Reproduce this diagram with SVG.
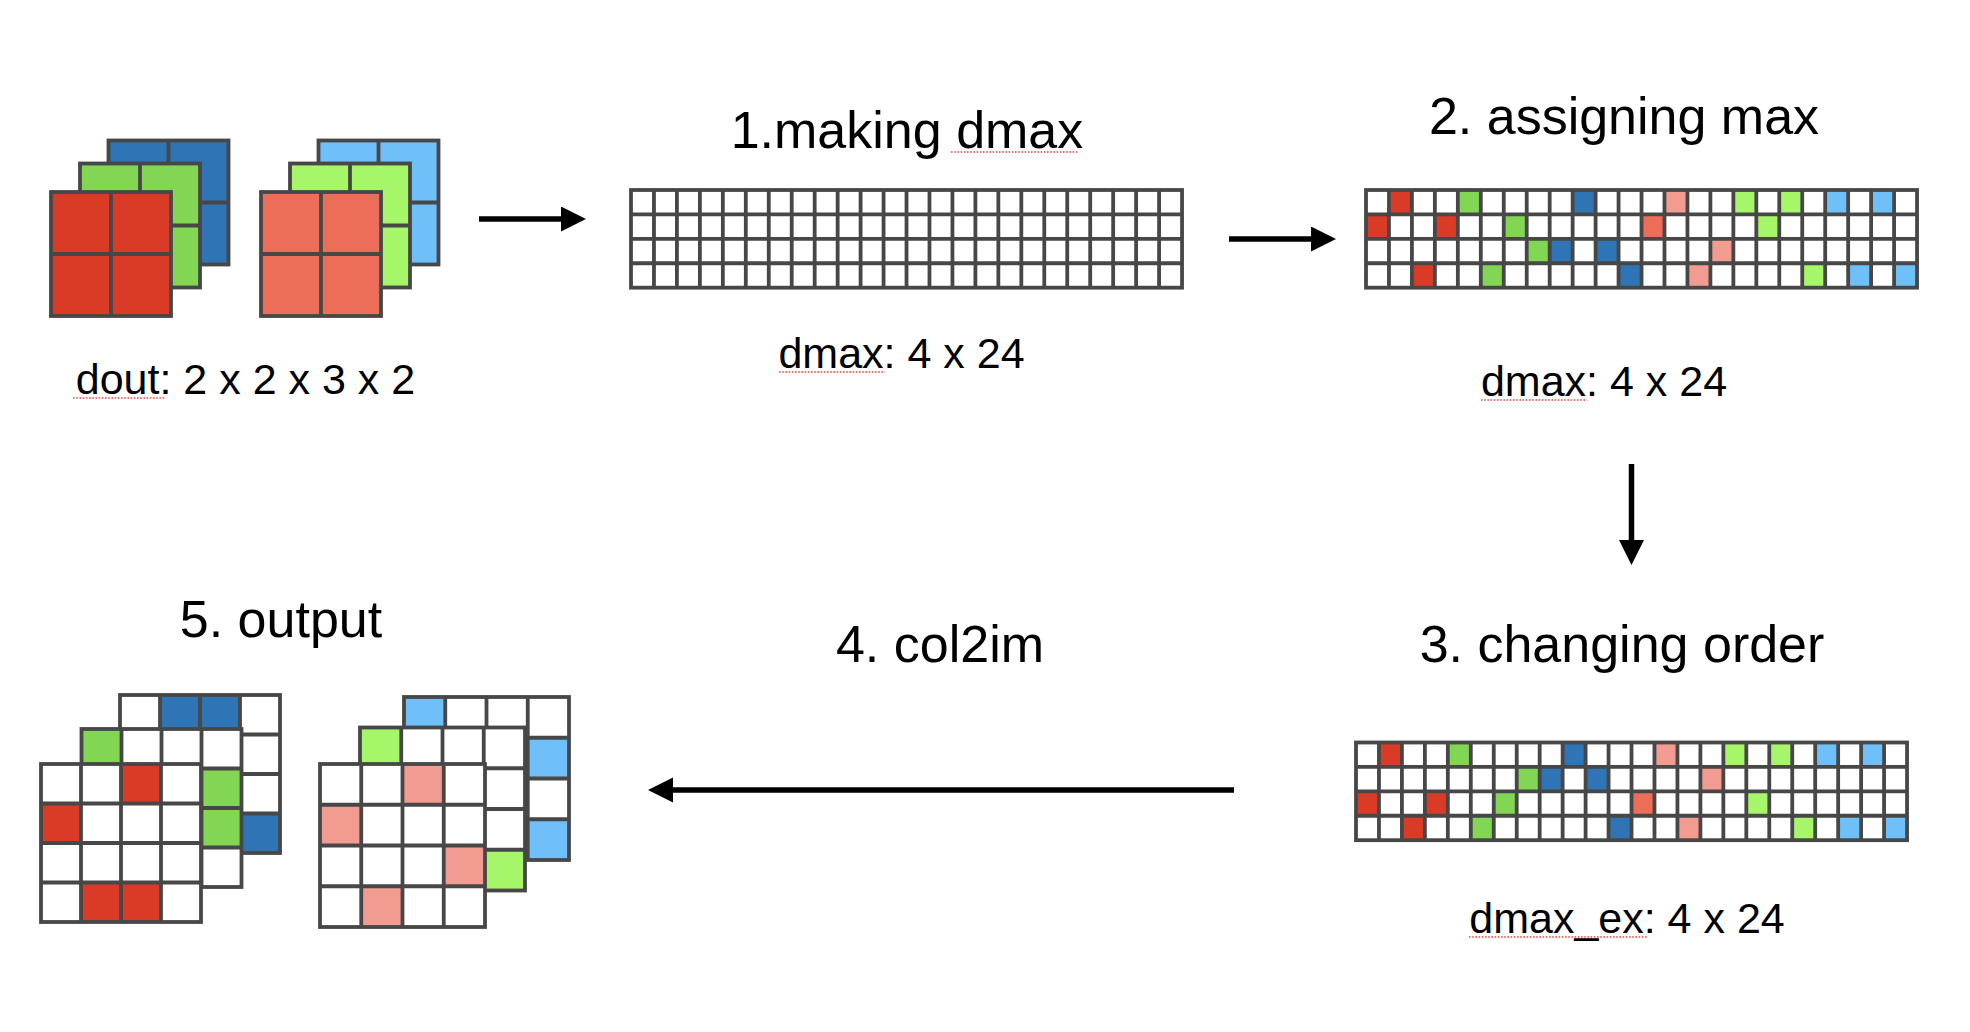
<svg xmlns="http://www.w3.org/2000/svg" xmlns:xlink="http://www.w3.org/1999/xlink" width="1970" height="1032" viewBox="0 0 1970 1032">
<style>
.t{font-family:"Liberation Sans",Arial,Helvetica,sans-serif;fill:#000;text-anchor:middle}
.title{font-size:52px}
.lbl{font-size:43px}
.ln{fill:none;stroke:#474747;stroke-width:3.8}
.w{fill:#fff}
.r{fill:#DA3B26}
.g{fill:#82D653}
.b{fill:#2F75B5}
.s{fill:#EC6E58}
.lg{fill:#A6F66A}
.lb{fill:#6FBFF8}
.p{fill:#F29C91}
.arr{fill:none;stroke:#000;stroke-width:5.5;marker-end:url(#ah)}
.sq{fill:none;stroke:#E8453C;stroke-width:1.6;stroke-dasharray:1.6 1.6}
</style>
<defs>
<marker id="ah" markerUnits="userSpaceOnUse" markerWidth="26" markerHeight="26" refX="0" refY="12.5" orient="auto" viewBox="0 0 26 26">
<path d="M0 0L25 12.5L0 25Z" fill="#000"/>
</marker>
<g id="gl">
<rect x="0" y="0" width="551.04" height="97.68" class="ln"/>
<path class="ln" d="M22.96 0V97.68M45.92 0V97.68M68.88 0V97.68M91.84 0V97.68M114.8 0V97.68M137.76 0V97.68M160.72 0V97.68M183.68 0V97.68M206.64 0V97.68M229.6 0V97.68M252.56 0V97.68M275.52 0V97.68M298.48 0V97.68M321.44 0V97.68M344.4 0V97.68M367.36 0V97.68M390.32 0V97.68M413.28 0V97.68M436.24 0V97.68M459.2 0V97.68M482.16 0V97.68M505.12 0V97.68M528.08 0V97.68M0 24.42H551.04M0 48.84H551.04M0 73.26H551.04"/>
</g>
<g id="rowA">
<rect class="r" x="22.96" y="0" width="22.96" height="24.42"/>
<rect class="g" x="91.84" y="0" width="22.96" height="24.42"/>
<rect class="b" x="206.64" y="0" width="22.96" height="24.42"/>
<rect class="p" x="298.48" y="0" width="22.96" height="24.42"/>
<rect class="lg" x="367.36" y="0" width="22.96" height="24.42"/>
<rect class="lg" x="413.28" y="0" width="22.96" height="24.42"/>
<rect class="lb" x="459.2" y="0" width="22.96" height="24.42"/>
<rect class="lb" x="505.12" y="0" width="22.96" height="24.42"/>
</g>
<g id="rowB">
<rect class="r" x="0" y="0" width="22.96" height="24.42"/>
<rect class="r" x="68.88" y="0" width="22.96" height="24.42"/>
<rect class="g" x="137.76" y="0" width="22.96" height="24.42"/>
<rect class="s" x="275.52" y="0" width="22.96" height="24.42"/>
<rect class="lg" x="390.32" y="0" width="22.96" height="24.42"/>
</g>
<g id="rowC">
<rect class="g" x="160.72" y="0" width="22.96" height="24.42"/>
<rect class="b" x="183.68" y="0" width="22.96" height="24.42"/>
<rect class="b" x="229.6" y="0" width="22.96" height="24.42"/>
<rect class="p" x="344.4" y="0" width="22.96" height="24.42"/>
</g>
<g id="rowD">
<rect class="r" x="45.92" y="0" width="22.96" height="24.42"/>
<rect class="g" x="114.8" y="0" width="22.96" height="24.42"/>
<rect class="b" x="252.56" y="0" width="22.96" height="24.42"/>
<rect class="p" x="321.44" y="0" width="22.96" height="24.42"/>
<rect class="lg" x="436.24" y="0" width="22.96" height="24.42"/>
<rect class="lb" x="482.16" y="0" width="22.96" height="24.42"/>
<rect class="lb" x="528.08" y="0" width="22.96" height="24.42"/>
</g>
<path id="x2" class="ln" d="M60 0V124M0 62H120"/>
<g id="g4a">
<rect x="0" y="0" width="160" height="158" class="ln"/>
<path class="ln" d="M40 0V158M80 0V158M120 0V158M0 39.5H160M0 79H160M0 118.5H160"/>
</g>
<g id="g4b">
<rect x="0" y="0" width="165" height="163" class="ln"/>
<path class="ln" d="M41.25 0V163M82.5 0V163M123.75 0V163M0 40.75H165M0 81.5H165M0 122.25H165"/>
</g>
</defs>
<rect width="1970" height="1032" fill="#fff"/>

<g id="node-dout">
<rect class="ln b" x="108.5" y="140.5" width="120" height="124"/>
<use xlink:href="#x2" x="108.5" y="140.5"/>
<rect class="ln g" x="80" y="163.5" width="120" height="124"/>
<use xlink:href="#x2" x="80" y="163.5"/>
<rect class="ln r" x="51" y="192" width="120" height="124"/>
<use xlink:href="#x2" x="51" y="192"/>
<rect class="ln lb" x="318.5" y="140.5" width="120" height="124"/>
<use xlink:href="#x2" x="318.5" y="140.5"/>
<rect class="ln lg" x="290" y="163.5" width="120" height="124"/>
<use xlink:href="#x2" x="290" y="163.5"/>
<rect class="ln s" x="261" y="192" width="120" height="124"/>
<use xlink:href="#x2" x="261" y="192"/>
<text class="t lbl" x="245.5" y="394">dout: 2 x 2 x 3 x 2</text>
<line class="sq" x1="73" y1="398" x2="166" y2="398"/>
</g>

<g id="node-dmax">
<text class="t title" x="907" y="148">1.making dmax</text>
<line class="sq" x1="951" y1="152" x2="1079" y2="152"/>
<rect class="w" x="631" y="190" width="551.04" height="97.68"/>
<use xlink:href="#gl" x="631" y="190"/>
<text class="t lbl" x="901.5" y="368">dmax: 4 x 24</text>
<line class="sq" x1="779" y1="372" x2="885" y2="372"/>
</g>

<g id="node-assign">
<text class="t title" x="1624" y="134">2. assigning max</text>
<g transform="translate(1366,190)">
<rect class="w" x="0" y="0" width="551.04" height="97.68"/>
<use xlink:href="#rowA" y="0"/>
<use xlink:href="#rowB" y="24.42"/>
<use xlink:href="#rowC" y="48.84"/>
<use xlink:href="#rowD" y="73.26"/>
<use xlink:href="#gl"/>
</g>
<text class="t lbl" x="1604" y="396">dmax: 4 x 24</text>
<line class="sq" x1="1481" y1="400" x2="1587" y2="400"/>
</g>

<g id="node-order">
<text class="t title" x="1622" y="662">3. changing order</text>
<g transform="translate(1356,742.5)">
<rect class="w" x="0" y="0" width="551.04" height="97.68"/>
<use xlink:href="#rowA" y="0"/>
<use xlink:href="#rowC" y="24.42"/>
<use xlink:href="#rowB" y="48.84"/>
<use xlink:href="#rowD" y="73.26"/>
<use xlink:href="#gl"/>
</g>
<text class="t lbl" x="1627" y="933">dmax_ex: 4 x 24</text>
<line class="sq" x1="1469" y1="937" x2="1648" y2="937"/>
</g>

<g id="node-output">
<text class="t title" x="281" y="637">5. output</text>
<g id="out-left">
<rect class="w" x="120" y="695" width="160" height="158"/>
<rect class="b" x="160" y="695" width="40" height="39.5"/>
<rect class="b" x="200" y="695" width="40" height="39.5"/>
<rect class="b" x="240" y="813.5" width="40" height="39.5"/>
<use xlink:href="#g4a" x="120" y="695"/>
<rect class="w" x="81.5" y="729" width="160" height="158"/>
<rect class="g" x="81.5" y="729" width="40" height="39.5"/>
<rect class="g" x="201.5" y="768.5" width="40" height="39.5"/>
<rect class="g" x="201.5" y="808" width="40" height="39.5"/>
<use xlink:href="#g4a" x="81.5" y="729"/>
<rect class="w" x="41" y="764" width="160" height="158"/>
<rect class="r" x="121" y="764" width="40" height="39.5"/>
<rect class="r" x="41" y="803.5" width="40" height="39.5"/>
<rect class="r" x="81" y="882.5" width="40" height="39.5"/>
<rect class="r" x="121" y="882.5" width="40" height="39.5"/>
<use xlink:href="#g4a" x="41" y="764"/>
</g>
<g id="out-right">
<rect class="w" x="404" y="697" width="165" height="163"/>
<rect class="lb" x="404" y="697" width="41.25" height="40.75"/>
<rect class="lb" x="527.75" y="737.75" width="41.25" height="40.75"/>
<rect class="lb" x="527.75" y="819.25" width="41.25" height="40.75"/>
<use xlink:href="#g4b" x="404" y="697"/>
<rect class="w" x="360" y="727.5" width="165" height="163"/>
<rect class="lg" x="360" y="727.5" width="41.25" height="40.75"/>
<rect class="lg" x="483.75" y="849.75" width="41.25" height="40.75"/>
<use xlink:href="#g4b" x="360" y="727.5"/>
<rect class="w" x="320" y="764" width="165" height="163"/>
<rect class="p" x="402.5" y="764" width="41.25" height="40.75"/>
<rect class="p" x="320" y="804.75" width="41.25" height="40.75"/>
<rect class="p" x="443.75" y="845.5" width="41.25" height="40.75"/>
<rect class="p" x="361.25" y="886.25" width="41.25" height="40.75"/>
<use xlink:href="#g4b" x="320" y="764"/>
</g>
</g>

<g id="connectors">
<line class="arr" x1="479" y1="219" x2="561" y2="219"/>
<line class="arr" x1="1229" y1="239" x2="1311" y2="239"/>
<line class="arr" x1="1631.5" y1="464" x2="1631.5" y2="540"/>
<line class="arr" x1="1234" y1="790" x2="673" y2="790"/>
<text class="t title" x="940" y="662">4. col2im</text>
</g>
</svg>
